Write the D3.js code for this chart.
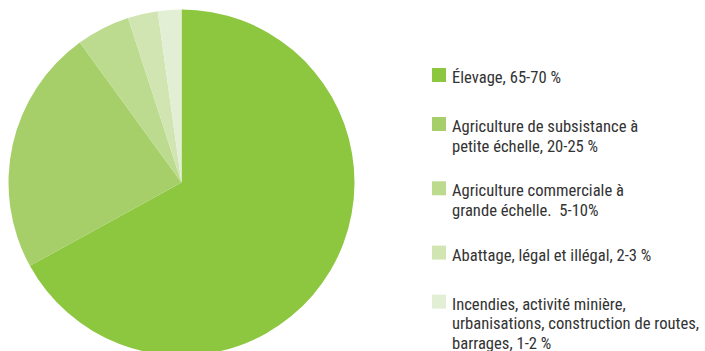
<!DOCTYPE html>
<meta charset="utf-8">
<style>
  body { margin: 0; background: #fff; }
  text {
    font-family: "Liberation Sans Narrow", "Arial Narrow", "Roboto Condensed", sans-serif;
    font-size: 16.6px;
    fill: #333;
    white-space: pre;
  }
</style>

<body>
  <script src="https://cdnjs.cloudflare.com/ajax/libs/d3/7.8.5/d3.min.js"></script>
  <script>

    // shares (clockwise from 12 o'clock)
    var categories = ["elevage", "subsistance", "commerciale", "abattage", "autres"];
    var values = [67, 23, 5, 2.8, 2.2];
    var colors = ["#8dc63f", "#a6cf69", "#bcdb8f", "#d1e5b2", "#e3efd5"];
    var legendLabels = [
      ["Élevage, 65-70 %"],
      ["Agriculture de subsistance à", "petite échelle, 20-25 %"],
      ["Agriculture commerciale à", "grande échelle.  5-10%"],
      ["Abattage, légal et illégal, 2-3 %"],
      ["Incendies, activité minière,", "urbanisations, construction de routes,", "barrages, 1-2 %"]
    ];

    var width = 705, height = 351,
      radius = 173;

    var color = d3.scaleOrdinal()
      .domain(categories)
      .range(colors);

    var svg = d3.select("body").append("svg")
      .attr("width", width)
      .attr("height", height);

    var pie = d3.pie()
      .sort(null)
      .value(function (d, i) { return values[i]; });

    var arc = d3.arc()
      .innerRadius(0)
      .outerRadius(radius);

    var g = svg.append("g")
      .attr("transform", "translate(181.5,182.5)");

    g.selectAll("path")
      .data(pie(categories))
      .enter().append("path")
      .attr("d", arc)
      .style("fill", function (d) { return color(d.data); });

    // legend, each item pushed down by the number of lines of the one before
    var lineHeight = 19.5;
    var legend = svg.append("g")
      .attr("transform", "translate(432,68)");

    var y0 = 0;
    legendLabels.forEach(function (lines, i) {
      var item = legend.append("g")
        .attr("transform", "translate(0," + y0 + ")");

      item.append("rect")
        .attr("width", 14)
        .attr("height", 14)
        .style("fill", colors[i]);

      item.append("text")
        .attr("x", 20)
        .attr("y", 15)
        .selectAll("tspan")
        .data(lines)
        .enter().append("tspan")
        .attr("x", 20)
        .attr("dy", function (d, j) { return j ? lineHeight : 0; })
        .text(function (d) { return d; });

      y0 += 49 + (lines.length - 1) * 15.3;
    });

  </script>

</body>

</html>
